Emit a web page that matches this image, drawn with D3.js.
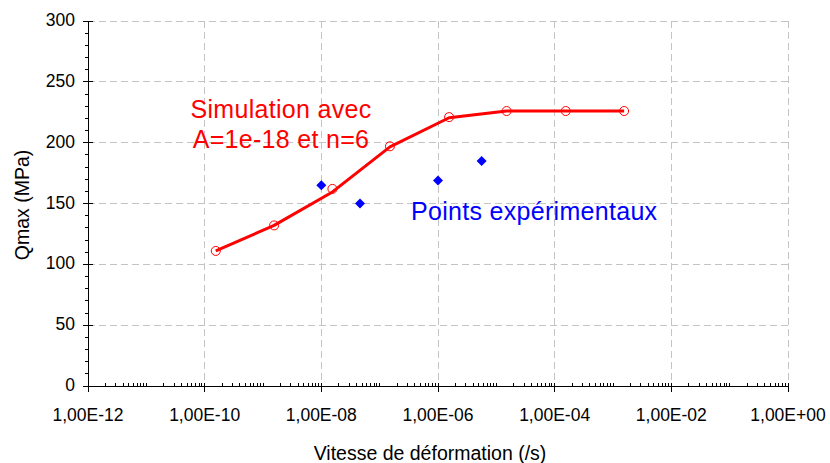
<!DOCTYPE html>
<html>
<head>
<meta charset="utf-8">
<script src="https://cdn.jsdelivr.net/npm/d3@7"></script>
<style>
  html, body { margin: 0; padding: 0; background: #fff; }
  svg { display: block; font-family: "Liberation Sans", Arial, sans-serif; }
</style>
</head>
<body>
<svg id="chart" width="830" height="463"></svg>
<script>
// ---- data ----
const simX = [1.55e-10, 1.55e-9, 1.55e-8, 1.5e-7, 1.55e-6, 1.5e-5, 1.55e-4, 1.55e-3];
const simMarkers = [111, 132, 162, 197, 221, 226, 226, 226];
const simLine = [111, 132, 159.5, 196.5, 220.5, 226, 226, 226];
const expX = [1e-8, 4.6e-8, 1e-6, 5.6e-6];
const expY = [165, 150, 169, 185];
const xMajorTicks = [1e-12, 1e-10, 1e-8, 1e-6, 1e-4, 1e-2, 1];
const xTickLabels = ["1,00E-12", "1,00E-10", "1,00E-08", "1,00E-06", "1,00E-04", "1,00E-02", "1,00E+00"];
const yTicks = [0, 50, 100, 150, 200, 250, 300];
const yTickLabels = ["0", "50", "100", "150", "200", "250", "300"];
const simLabel = ["Simulation avec", "A=1e-18 et n=6"];
const expLabel = "Points expérimentaux";
const xTitle = "Vitesse de déformation (/s)";
const yTitle = "Qmax (MPa)";

// ---- layout ----
const L = 88, R = 788, T = 21, B = 386;
const svg = d3.select("#chart");
const x = d3.scaleLog().domain([1e-12, 1]).range([L, R]);
const y = d3.scaleLinear().domain([0, 300]).range([B, T]);

const gridColor = "#c4c4c4";
const dash = "7,4";

// grid lines
svg.append("g").selectAll("line").data(yTicks.filter(v => v > 0)).join("line")
  .attr("x1", L).attr("x2", R)
  .attr("y1", d => y(d)).attr("y2", d => y(d))
  .attr("stroke", gridColor).attr("stroke-width", 1).attr("stroke-dasharray", dash)
  .attr("shape-rendering", "crispEdges");
svg.append("g").selectAll("line").data(xMajorTicks.slice(1)).join("line")
  .attr("x1", d => x(d)).attr("x2", d => x(d))
  .attr("y1", T).attr("y2", B)
  .attr("stroke", gridColor).attr("stroke-width", 1).attr("stroke-dasharray", dash)
  .attr("shape-rendering", "crispEdges");

// minor ticks
const xMinor = [];
for (let d = -12; d < 0; d++) {
  for (let k = 2; k <= 10; k++) {
    const v = k * Math.pow(10, d);
    if (!xMajorTicks.some(t => Math.abs(Math.log10(t) - Math.log10(v)) < 1e-9)) xMinor.push(v);
  }
}
const yMinor = d3.range(10, 300, 10).filter(v => v % 50 !== 0);

const axes = svg.append("g").attr("stroke", "#000").attr("shape-rendering", "crispEdges");
axes.append("line").attr("x1", L).attr("x2", R).attr("y1", B).attr("y2", B);
axes.append("line").attr("x1", L).attr("x2", L).attr("y1", T).attr("y2", B);
axes.selectAll(".xmin").data(xMinor).join("line")
  .attr("x1", d => x(d)).attr("x2", d => x(d)).attr("y1", B - 3).attr("y2", B);
axes.selectAll(".xmaj").data(xMajorTicks).join("line")
  .attr("x1", d => x(d)).attr("x2", d => x(d)).attr("y1", B - 3).attr("y2", B + 6);
axes.selectAll(".ymin").data(yMinor).join("line")
  .attr("x1", L - 3).attr("x2", L).attr("y1", d => y(d)).attr("y2", d => y(d));
axes.selectAll(".ymaj").data(yTicks).join("line")
  .attr("x1", L - 5).attr("x2", L + 5).attr("y1", d => y(d)).attr("y2", d => y(d));

// tick labels
svg.append("g").selectAll("text").data(xMajorTicks).join("text")
  .attr("x", d => x(d)).attr("y", B + 35)
  .attr("text-anchor", "middle").attr("font-size", 17.5).attr("fill", "#000")
  .text((d, i) => xTickLabels[i]);
svg.append("g").selectAll("text").data(yTicks).join("text")
  .attr("x", L - 13).attr("y", d => y(d) + 5)
  .attr("text-anchor", "end").attr("font-size", 17.5).attr("fill", "#000")
  .text((d, i) => yTickLabels[i]);

// axis titles
svg.append("text").attr("x", 430).attr("y", 460)
  .attr("text-anchor", "middle").attr("font-size", 19.5).attr("fill", "#000").text(xTitle);
svg.append("text").attr("transform", "translate(29,205) rotate(-90)")
  .attr("text-anchor", "middle").attr("font-size", 19.5).attr("fill", "#000").text(yTitle);

// simulation markers
svg.append("g").selectAll("circle").data(simX).join("circle")
  .attr("cx", d => x(d)).attr("cy", (d, i) => y(simMarkers[i])).attr("r", 4.5)
  .attr("fill", "none").attr("stroke", "#ff0000").attr("stroke-width", 1);

// simulation line
const line = d3.line().x(d => x(d[0])).y(d => y(d[1]));
svg.append("path").datum(simX.map((v, i) => [v, simLine[i]]))
  .attr("d", line).attr("fill", "none").attr("stroke", "#ff0000")
  .attr("stroke-width", 3).attr("stroke-linejoin", "round");

// experimental points
svg.append("g").selectAll("path").data(expX).join("path")
  .attr("d", d3.symbol().type(d3.symbolSquare).size(50))
  .attr("transform", (d, i) => `translate(${x(d)},${y(expY[i])}) rotate(45)`)
  .attr("fill", "#0000ff");

// annotations
svg.append("g").selectAll("text").data(simLabel).join("text")
  .attr("x", 281).attr("y", (d, i) => 118 + i * 30)
  .attr("text-anchor", "middle").attr("font-size", 25).attr("fill", "#ff0000")
  .attr("letter-spacing", 0.3)
  .text(d => d);
svg.append("text").attr("x", 411).attr("y", 220)
  .attr("font-size", 25).attr("fill", "#0000ff").attr("letter-spacing", 0.3).text(expLabel);
</script>
</body>
</html>
